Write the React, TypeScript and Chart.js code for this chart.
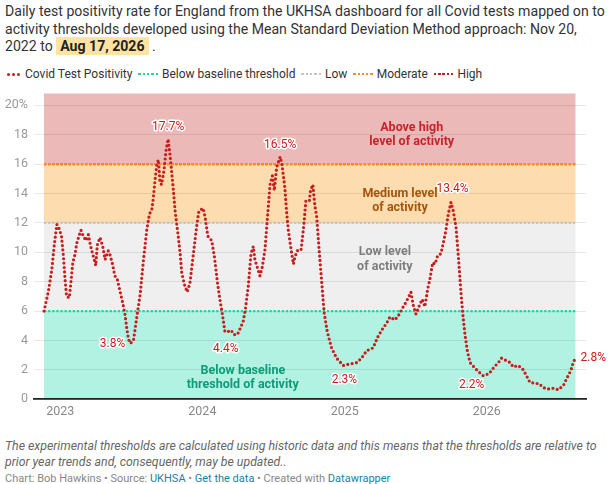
import React, { useEffect, useRef } from "react";
import { Chart, registerables } from "chart.js";

Chart.register(...registerables);

// ---- data ----
const dates = [
  "2022-11-20","2022-12-01","2022-12-10","2022-12-16","2022-12-23","2022-12-29","2023-01-04","2023-01-09",
  "2023-01-13","2023-01-17","2023-01-24","2023-01-28","2023-02-02","2023-02-08","2023-02-12","2023-02-19",
  "2023-02-23","2023-03-01","2023-03-08","2023-03-14","2023-03-20","2023-03-27","2023-04-02","2023-04-06",
  "2023-04-13","2023-04-20","2023-04-26","2023-05-04","2023-05-09","2023-05-16","2023-05-21","2023-05-27",
  "2023-06-03","2023-06-10","2023-06-16","2023-06-21","2023-06-25","2023-06-30","2023-07-08","2023-07-16",
  "2023-07-25","2023-08-02","2023-08-11","2023-08-18","2023-08-24","2023-08-28","2023-09-01","2023-09-06",
  "2023-09-10","2023-09-14","2023-09-18","2023-09-24","2023-09-30","2023-10-05","2023-10-10","2023-10-18",
  "2023-10-23","2023-10-31","2023-11-05","2023-11-09","2023-11-16","2023-11-23","2023-11-30","2023-12-09",
  "2023-12-17","2023-12-23","2024-01-03","2024-01-08","2024-01-15","2024-01-25","2024-02-01","2024-02-09",
  "2024-02-15","2024-02-22","2024-02-28","2024-03-06","2024-03-15","2024-03-22","2024-03-31","2024-04-07",
  "2024-04-15","2024-04-21","2024-04-28","2024-05-05","2024-05-11","2024-05-15","2024-05-22","2024-05-28",
  "2024-06-03","2024-06-10","2024-06-17","2024-06-23","2024-06-29","2024-07-04","2024-07-10","2024-07-19",
  "2024-07-24","2024-07-31","2024-08-05","2024-08-09","2024-08-16","2024-08-22","2024-08-26","2024-09-03",
  "2024-09-11","2024-09-18","2024-09-23","2024-10-02","2024-10-05","2024-10-11","2024-10-16","2024-10-21",
  "2024-10-27","2024-11-03","2024-11-09","2024-11-17","2024-11-28","2024-12-11","2024-12-28","2025-01-14",
  "2025-02-01","2025-02-13","2025-02-26","2025-03-15","2025-03-26","2025-04-06","2025-04-19","2025-04-27",
  "2025-05-10","2025-05-19","2025-05-27","2025-06-05","2025-06-13","2025-06-20","2025-06-26","2025-07-03",
  "2025-07-12","2025-07-19","2025-07-26","2025-08-02","2025-08-08","2025-08-15","2025-08-21","2025-08-28",
  "2025-09-05","2025-09-11","2025-09-18","2025-09-24","2025-10-01","2025-10-07","2025-10-14","2025-10-20",
  "2025-10-26","2025-10-31","2025-11-06","2025-11-12","2025-11-19","2025-11-29","2025-12-10","2025-12-23",
  "2026-01-07","2026-01-20","2026-01-31","2026-02-08","2026-02-19","2026-03-02","2026-03-10","2026-03-23",
  "2026-04-05","2026-04-15","2026-04-22","2026-05-05","2026-05-16","2026-05-26","2026-06-08","2026-06-21",
  "2026-07-04","2026-07-17","2026-07-27","2026-08-05","2026-08-11","2026-08-17",
];

const positivity = [
  6.0, 7.3, 8.8, 10.4, 11.9, 11.6, 11.1, 9.7,
  8.2, 7.0, 6.9, 7.9, 9.3, 9.9, 10.6, 11.2,
  11.5, 11.1, 10.8, 11.2, 10.4, 9.7, 9.1, 10.5,
  11.0, 10.4, 9.5, 10.1, 9.8, 9.1, 8.4, 8.2,
  7.4, 6.6, 5.8, 4.8, 4.1, 3.8, 4.0, 5.5,
  7.1, 9.3, 11.5, 12.6, 12.9, 13.7, 14.8, 16.0,
  16.3, 14.8, 14.6, 15.5, 17.0, 17.7, 16.6, 14.4,
  12.8, 11.1, 9.9, 8.6, 7.8, 7.3, 7.9, 9.9,
  11.7, 12.8, 13.0, 12.4, 11.1, 10.8, 9.7, 7.9,
  6.8, 5.7, 4.6, 4.6, 4.7, 4.4, 4.4, 4.8,
  5.3, 6.2, 7.7, 9.9, 10.4, 9.5, 8.9, 8.4,
  9.0, 10.2, 12.6, 14.6, 15.2, 14.2, 15.8, 16.5,
  15.9, 14.4, 12.6, 11.5, 10.2, 9.2, 9.7, 10.2,
  10.2, 11.9, 13.5, 13.5, 14.2, 14.6, 13.2, 12.4,
  10.2, 7.9, 5.9, 4.6, 3.5, 2.8, 2.3, 2.4,
  2.5, 2.8, 3.3, 3.5, 4.2, 4.7, 5.2, 5.6,
  5.4, 5.7, 6.1, 6.5, 6.9, 7.3, 6.4, 5.8,
  6.4, 6.8, 6.3, 7.5, 8.2, 9.3, 9.2, 9.8,
  9.9, 10.6, 11.5, 12.6, 13.4, 12.8, 11.7, 9.7,
  7.5, 5.9, 4.4, 3.3, 2.5, 2.2, 1.9, 1.6,
  1.75, 2.2, 2.5, 2.8, 2.65, 2.5, 2.2, 2.3,
  2.0, 1.5, 1.15, 1.1, 1.05, 0.8, 0.7, 0.75,
  0.65, 0.95, 1.5, 1.95, 2.5, 2.8,
];

const seriesName = "Covid Test Positivity";
const thresholdNames = ["Below baseline threshold", "Low", "Moderate", "High"];
const thresholdValues = [6, 12, 16, 16];
const thresholdColors = ["#19d8aa", "#c4c4c4", "#f7931e", "#c71e1d"];

const bandBounds = [0, 6, 12, 16, 20.8];
const bandColors = ["#b2f2e2", "#efefef", "#fddcb0", "#ecb9b9"];
const bandLabels = [
  ["Below baseline", "threshold of activity"],
  ["Low level", "of activity"],
  ["Medium level", "of activity"],
  ["Above high", "level of activity"],
];
const bandLabelColors = ["#0e9c78", "#7d7d7d", "#a5560c", "#c8232c"];
const bandLabelDates = ["2024-04-14", "2025-04-14", "2025-05-23", "2025-06-22"];
const bandLabelValues = [1.47, 9.51, 13.49, 18.0];

const valueLabelTexts = ["17.7%", "16.5%", "3.8%", "4.4%", "13.4%", "2.3%", "2.2%", "2.8%"];
const valueLabelDates = ["2023-10-05", "2024-07-19", "2023-05-15", "2024-03-01", "2025-10-05", "2024-12-31", "2025-11-23", "2026-08-30"];
const valueLabelValues = [18.5, 17.3, 3.73, 3.44, 14.29, 1.29, 1.0, 2.84];
const valueLabelAlign = ["center", "center", "center", "center", "center", "center", "center", "left"];

const yTicks = [0, 2, 4, 6, 8, 10, 12, 14, 16, 18, 20];
const yearTickDates = ["2023-01-01", "2024-01-01", "2025-01-01", "2026-01-01"];
const yearTickLabels = ["2023", "2024", "2025", "2026"];

// ---- helpers ----
const DAY = 864e5;
const ts = (s: string) => new Date(s + "T00:00:00Z").getTime();
const FONT = "Roboto, 'Noto Sans', sans-serif";
const lineColor = "#c71e1d";

const bandsPlugin = {
  id: "bands",
  beforeDraw(chart: any) {
    const { ctx, scales } = chart;
    const x = scales.x, y = scales.y;
    const x0 = x.getPixelForValue(ts(dates[0]));
    const x1 = x.getPixelForValue(ts(dates[dates.length - 1]));
    ctx.save();
    for (let i = 0; i < bandColors.length; i++) {
      const yb = y.getPixelForValue(bandBounds[i]);
      const yt = y.getPixelForValue(bandBounds[i + 1]);
      ctx.fillStyle = bandColors[i];
      ctx.fillRect(x0, yt, x1 - x0, yb - yt);
    }
    ctx.restore();
  },
};

const labelsPlugin = {
  id: "labelsOverlay",
  afterDatasetsDraw(chart: any) {
    const { ctx, scales } = chart;
    const x = scales.x, y = scales.y;
    ctx.save();
    ctx.textBaseline = "middle";
    ctx.lineJoin = "round";
    ctx.font = `bold 12.5px ${FONT}`;
    ctx.textAlign = "center";
    for (let i = 0; i < bandLabels.length; i++) {
      const px = x.getPixelForValue(ts(bandLabelDates[i]));
      const py = y.getPixelForValue(bandLabelValues[i]);
      ctx.fillStyle = bandLabelColors[i];
      ctx.fillText(bandLabels[i][0], px, py - 7.2);
      ctx.fillText(bandLabels[i][1], px, py + 7.2);
    }
    ctx.font = `12px ${FONT}`;
    for (let i = 0; i < valueLabelTexts.length; i++) {
      const px = x.getPixelForValue(ts(valueLabelDates[i]));
      const py = y.getPixelForValue(valueLabelValues[i]);
      ctx.textAlign = valueLabelAlign[i] as CanvasTextAlign;
      ctx.strokeStyle = "#ffffff";
      ctx.lineWidth = 3;
      ctx.strokeText(valueLabelTexts[i], px, py);
      ctx.fillStyle = lineColor;
      ctx.fillText(valueLabelTexts[i], px, py);
    }
    ctx.restore();
  },
};

function Dots({ color, round }: { color: string; round?: boolean }) {
  const n = round ? 3 : 5;
  const s = round ? 3 : 2.4;
  const gap = round ? 2 : 1.9;
  return (
    <span style={{ display: "inline-flex", alignItems: "center", marginRight: round ? 5 : 4 }}>
      {Array.from({ length: n }).map((_, i) => (
        <span
          key={i}
          style={{
            display: "inline-block",
            width: s,
            height: s,
            borderRadius: round ? "50%" : 0,
            background: color,
            marginRight: i < n - 1 ? gap : 0,
          }}
        />
      ))}
    </span>
  );
}

export default function App() {
  const canvasRef = useRef<HTMLCanvasElement | null>(null);

  useEffect(() => {
    if (!canvasRef.current) return;
    Chart.defaults.font.family = FONT;
    const t0 = ts(dates[0]);
    const tEnd = ts(dates[dates.length - 1]);
    const thresholdSets = thresholdNames.map((name, i) => ({
      label: name,
      data: [
        { x: t0, y: thresholdValues[i] },
        { x: tEnd, y: thresholdValues[i] },
      ],
      borderColor: thresholdColors[i],
      borderWidth: 2.3,
      borderDash: [2.3, 1.8],
      borderCapStyle: "butt" as const,
      pointRadius: 0,
      fill: false,
    }));
    const chart = new Chart(canvasRef.current, {
      type: "line",
      data: {
        datasets: [
          {
            label: seriesName,
            data: dates.map((d, i) => ({ x: ts(d), y: positivity[i] })),
            borderColor: lineColor,
            borderWidth: 3.2,
            borderDash: [0, 4.4],
            borderCapStyle: "round",
            borderJoinStyle: "round",
            pointRadius: 0,
            tension: 0,
            fill: false,
          },
          ...thresholdSets,
        ],
      },
      options: {
        animation: false,
        responsive: false,
        maintainAspectRatio: false,
        layout: { padding: { top: 7.3, right: 27, left: 0, bottom: 0 } },
        plugins: { legend: { display: false }, tooltip: { enabled: false } },
        scales: {
          x: {
            type: "linear",
            min: t0 - 25.7 * DAY,
            max: t0 + 1393 * DAY,
            grid: { display: false, drawTicks: false },
            border: { display: true, color: "#222", width: 1.8 },
            afterBuildTicks: (scale: any) => {
              scale.ticks = yearTickDates.map((d) => ({ value: ts(d) }));
            },
            afterFit: (scale: any) => {
              scale.height = 20.7;
            },
            ticks: {
              autoSkip: false,
              maxRotation: 0,
              padding: 5,
              color: "#888",
              font: { size: 12.5, family: FONT },
              callback: (v: any) => {
                const idx = yearTickDates.findIndex((d) => ts(d) === v);
                return idx >= 0 ? yearTickLabels[idx] : "";
              },
            },
          },
          y: {
            type: "linear",
            min: 0,
            max: 20.8,
            grid: { color: "rgba(0,0,0,0.09)", lineWidth: 1, drawTicks: false },
            border: { display: false },
            afterBuildTicks: (scale: any) => {
              scale.ticks = yTicks.map((v) => ({ value: v }));
            },
            afterFit: (scale: any) => {
              scale.width = 34;
            },
            ticks: {
              padding: 6,
              color: "#9a9a9a",
              font: { size: 12.5, family: FONT },
              callback: (v: any) => (v === 20 ? "20%" : String(v)),
            },
          },
        },
      },
      plugins: [bandsPlugin, labelsPlugin],
    });
    return () => chart.destroy();
  }, []);

  const legendItem = (label: string, color: string, round?: boolean) => (
    <span key={label} style={{ display: "inline-flex", alignItems: "center", marginRight: 6 }}>
      <Dots color={color} round={round} />
      <span>{label}</span>
    </span>
  );

  return (
    <div
      style={{
        position: "absolute",
        left: 0,
        top: 0,
        width: 613,
        height: 484,
        background: "#fff",
        fontFamily: FONT,
        overflow: "hidden",
      }}
    >
      <div
        style={{
          position: "absolute",
          left: 5,
          top: 3,
          width: 600,
          fontSize: 14.1,
          lineHeight: "17.5px",
          color: "#333",
        }}
      >
        Daily test positivity rate for England from the UKHSA dashboard for all Covid tests mapped on to
        activity thresholds developed using the Mean Standard Deviation Method approach: Nov 20, 2022 to{" "}
        <span style={{ background: "#fee3a1", fontWeight: 700, padding: "1px 4px", color: "#222" }}>Aug 17, 2026</span> .
      </div>
      <div
        style={{
          position: "absolute",
          left: 7,
          top: 66,
          fontSize: 12,
          lineHeight: "16px",
          color: "#333",
          display: "flex",
          alignItems: "center",
          whiteSpace: "nowrap",
        }}
      >
        {legendItem(seriesName, lineColor, true)}
        {thresholdNames.map((n, i) => legendItem(n, thresholdColors[i]))}
      </div>
      <canvas
        ref={canvasRef}
        width={613}
        height={340}
        style={{ position: "absolute", left: 0, top: 80, width: 613, height: 340 }}
      />
      <div
        style={{
          position: "absolute",
          left: 5,
          top: 439,
          width: 600,
          fontSize: 12.3,
          lineHeight: "15.5px",
          fontStyle: "italic",
          color: "#666",
        }}
      >
        The experimental thresholds are calculated using historic data and this means that the thresholds are relative to
        prior year trends and, consequently, may be updated..
      </div>
      <div
        style={{
          position: "absolute",
          left: 5,
          top: 472,
          fontSize: 11,
          lineHeight: "13px",
          color: "#888",
          whiteSpace: "nowrap",
        }}
      >
        Chart: Bob Hawkins • Source: <span style={{ color: "#1d81a2" }}>UKHSA</span> •{" "}
        <span style={{ color: "#1d81a2" }}>Get the data</span> • Created with{" "}
        <span style={{ color: "#1d81a2" }}>Datawrapper</span>
      </div>
    </div>
  );
}
